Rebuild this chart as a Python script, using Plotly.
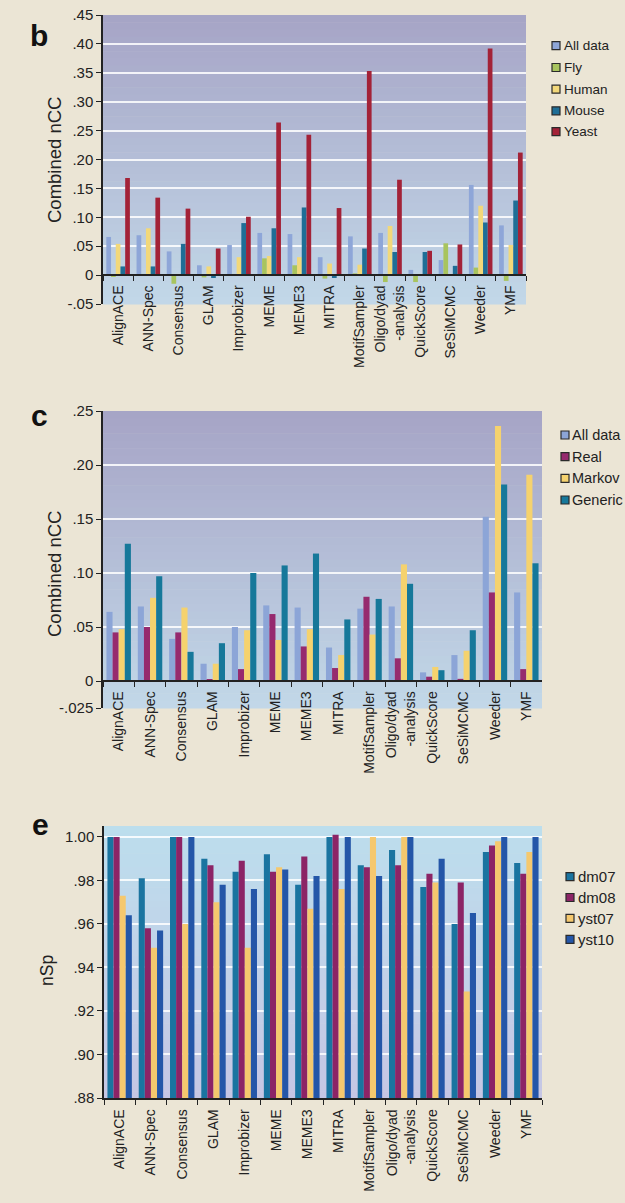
import plotly.graph_objects as go

# ---------------- data ----------------
categories = ["AlignACE", "ANN-Spec", "Consensus", "GLAM", "Improbizer", "MEME", "MEME3",
              "MITRA", "MotifSampler", "Oligo/dyad<br>-analysis", "QuickScore", "SeSiMCMC",
              "Weeder", "YMF"]

# panel b: Combined nCC by organism
b_names    = ["All data", "Fly", "Human", "Mouse", "Yeast"]
b_all_data = [0.066, 0.069, 0.041, 0.017, 0.052, 0.073, 0.071, 0.031, 0.067, 0.073, 0.009, 0.026, 0.156, 0.086]
b_fly      = [-0.003, 0.002, -0.015, -0.004, 0.002, 0.029, 0.017, -0.006, 0.003, -0.012, -0.012, 0.055, 0.013, -0.010]
b_human    = [0.054, 0.081, 0.002, 0.015, 0.031, 0.033, 0.031, 0.020, 0.018, 0.085, 0.002, 0.002, 0.120, 0.052]
b_mouse    = [0.015, 0.015, 0.054, -0.005, 0.090, 0.081, 0.117, -0.005, 0.046, 0.040, 0.040, 0.016, 0.091, 0.129]
b_yeast    = [0.168, 0.134, 0.115, 0.046, 0.101, 0.264, 0.243, 0.116, 0.353, 0.165, 0.042, 0.053, 0.392, 0.212]

# panel c: Combined nCC by background type
c_names    = ["All data", "Real", "Markov", "Generic"]
c_all_data = [0.064, 0.069, 0.039, 0.016, 0.050, 0.070, 0.068, 0.031, 0.067, 0.069, 0.008, 0.024, 0.152, 0.082]
c_real     = [0.045, 0.050, 0.045, 0.001, 0.011, 0.062, 0.032, 0.012, 0.078, 0.021, 0.004, 0.002, 0.082, 0.011]
c_markov   = [0.048, 0.077, 0.068, 0.016, 0.047, 0.038, 0.048, 0.024, 0.043, 0.108, 0.013, 0.028, 0.236, 0.191]
c_generic  = [0.127, 0.097, 0.027, 0.035, 0.100, 0.107, 0.118, 0.057, 0.076, 0.090, 0.010, 0.047, 0.182, 0.109]

# panel e: nSp by dataset
e_names = ["dm07", "dm08", "yst07", "yst10"]
e_dm07  = [1.000, 0.981, 1.000, 0.990, 0.984, 0.992, 0.978, 1.000, 0.987, 0.994, 0.977, 0.960, 0.993, 0.988]
e_dm08  = [1.000, 0.958, 1.000, 0.987, 0.989, 0.984, 0.991, 1.001, 0.986, 0.987, 0.983, 0.979, 0.996, 0.983]
e_yst07 = [0.973, 0.949, 0.960, 0.970, 0.949, 0.986, 0.967, 0.976, 1.000, 1.000, 0.979, 0.929, 0.998, 0.993]
e_yst10 = [0.964, 0.957, 1.000, 0.978, 0.976, 0.985, 0.982, 1.000, 0.982, 1.000, 0.990, 0.965, 1.000, 1.000]

b_tickvals = [-0.05, 0, 0.05, 0.10, 0.15, 0.20, 0.25, 0.30, 0.35, 0.40, 0.45]
b_ticktext = ["-.05", "0", ".05", ".10", ".15", ".20", ".25", ".30", ".35", ".40", ".45"]
c_tickvals = [-0.025, 0, 0.05, 0.10, 0.15, 0.20, 0.25]
c_ticktext = ["-.025", "0", ".05", ".10", ".15", ".20", ".25"]
e_tickvals = [0.88, 0.90, 0.92, 0.94, 0.96, 0.98, 1.00]
e_ticktext = [".88", ".90", ".92", ".94", ".96", ".98", "1.00"]

y_titles = ["Combined nCC", "Combined nCC", "nSp"]
panel_letters = ["b", "c", "e"]

# ---------------- style ----------------
FONT = "Liberation Sans, Arial, Helvetica, sans-serif"
PAPER = "#ebe5d5"
H = 1203.0
W = 625.0

def fy(px):
    return 1 - px / H

def fx(px):
    return px / W

panels = {
    "b": dict(dom_x=[fx(103), fx(526)], dom_y=[fy(304), fy(15)], rng=[-0.05, 0.45]),
    "c": dict(dom_x=[fx(103), fx(542)], dom_y=[fy(708), fy(411)], rng=[-0.025, 0.25]),
    "e": dict(dom_x=[fx(104), fx(542)], dom_y=[fy(1098), fy(826)], rng=[0.88, 1.005]),
}

colors_b = ["#8ea6d8", "#a8c45e", "#f2d87a", "#1f6e96", "#a32237"]
colors_c = ["#8ca5d7", "#962a6e", "#f5d26e", "#16789a"]
colors_e = ["#1a74a0", "#8c2466", "#f5c86e", "#2456a8"]

series_b = list(zip(b_names, [b_all_data, b_fly, b_human, b_mouse, b_yeast], colors_b))
series_c = list(zip(c_names, [c_all_data, c_real, c_markov, c_generic], colors_c))
series_e = list(zip(e_names, [e_dm07, e_dm08, e_yst07, e_yst10], colors_e))

fig = go.Figure()

def add_series(series, xa, ya):
    for name, vals, col in series:
        fig.add_trace(go.Bar(x=categories, y=vals, name=name, marker=dict(color=col, line=dict(width=0)),
                             xaxis=xa, yaxis=ya, showlegend=False))

add_series(series_b, "x", "y")
add_series(series_c, "x2", "y2")
add_series(series_e, "x3", "y3")

# gradient backgrounds
def lerp(c1, c2, t):
    return tuple(int(round(a + (b - a) * t)) for a, b in zip(c1, c2))

shapes = []
annotations = []

def gradient(xr, yr, top, bottom, n=40):
    for i in range(n):
        t0 = i / n
        t1 = (i + 1) / n
        col = lerp(top, bottom, (t0 + t1) / 2)
        shapes.append(dict(type="rect", xref=xr + " domain", yref=yr + " domain",
                           x0=0, x1=1, y0=1 - t1 - 0.002, y1=1 - t0,
                           fillcolor="rgb(%d,%d,%d)" % col, line=dict(width=0), layer="below"))

gradient("x", "y", (166, 164, 198), (194, 216, 232))
gradient("x2", "y2", (166, 164, 198), (194, 216, 232))
gradient("x3", "y3", (188, 222, 237), (198, 198, 228))

# legends (drawn as key squares + text labels)
def legend(series, sq_x, text_x, centers, size, fsize):
    for (name, _, col), cy in zip(series, centers):
        shapes.append(dict(type="rect", xref="paper", yref="paper",
                           x0=fx(sq_x), x1=fx(sq_x + size), y0=fy(cy + size / 2), y1=fy(cy - size / 2),
                           fillcolor=col, line=dict(color="#2a2a2a", width=1.2), layer="above"))
        annotations.append(dict(text=name, x=fx(text_x), y=fy(cy), xref="paper", yref="paper",
                                xanchor="left", yanchor="middle", showarrow=False,
                                font=dict(family=FONT, size=fsize, color="#222")))

legend(series_b, 552, 562, [45.7, 67.5, 89.2, 110.8, 131.7], 8, 13.5)
legend(series_c, 561, 570, [435, 456.7, 478.3, 500], 8, 14.5)
legend(series_e, 566, 576, [876.7, 897.5, 918.3, 939.3], 8, 15)

def xaxis_cfg(p, position=None, anchor=None):
    d = dict(domain=panels[p]["dom_x"], type="category", tickson="boundaries", ticks="outside",
             ticklen=5, tickwidth=1.3, tickcolor="#222", showline=True, linecolor="#222", linewidth=1.5,
             tickangle=-90, tickfont=dict(family=FONT, size=14, color="#222"), showgrid=False,
             zeroline=False, range=[-0.5, 13.5], ticklabelstandoff=4, automargin=False)
    if position is not None:
        d.update(anchor="free", position=position)
    else:
        d.update(anchor=anchor)
    return d

def yaxis_cfg(p, anchor, tv, tt):
    return dict(domain=panels[p]["dom_y"], range=panels[p]["rng"], anchor=anchor, tickvals=tv, ticktext=tt,
                ticks="outside", ticklen=5, tickwidth=1.3, tickcolor="#222", showline=True,
                linecolor="#222", linewidth=1.5, showgrid=True, gridcolor="rgba(255,255,255,0.85)",
                gridwidth=1.5, zeroline=False, tickfont=dict(family=FONT, size=15, color="#222"),
                automargin=False)

def zero_pos(p):
    lo, hi = panels[p]["rng"]
    d0, d1 = panels[p]["dom_y"]
    return d0 + (0 - lo) / (hi - lo) * (d1 - d0)

# y-axis titles
for text, (cx, cy, fs) in zip(y_titles, [(54, 160, 18.5), (54, 574, 18.5), (47, 971, 17.5)]):
    annotations.append(dict(text=text, x=fx(cx), y=fy(cy), xref="paper", yref="paper", showarrow=False,
                            textangle=-90, xanchor="center", yanchor="middle",
                            font=dict(family=FONT, size=fs, color="#222")))

# panel letters
for letter, (cx, cy) in zip(panel_letters, [(28, 17), (29, 416), (30, 843)]):
    annotations.append(dict(text="<b>" + letter + "</b>", x=fx(cx), y=fy(cy), xref="paper", yref="paper",
                            showarrow=False, font=dict(family=FONT, size=30, color="#111")))

fig.update_layout(
    width=625, height=1203, autosize=False,
    margin=dict(l=0, r=0, t=0, b=0),
    paper_bgcolor=PAPER, plot_bgcolor="rgba(0,0,0,0)",
    barmode="group", bargap=0.22, bargroupgap=0.0,
    font=dict(family=FONT, color="#222"),
    showlegend=False,
    xaxis=xaxis_cfg("b", position=zero_pos("b")),
    xaxis2=xaxis_cfg("c", position=zero_pos("c")),
    xaxis3=xaxis_cfg("e", anchor="y3"),
    yaxis=yaxis_cfg("b", "x", b_tickvals, b_ticktext),
    yaxis2=yaxis_cfg("c", "x2", c_tickvals, c_ticktext),
    yaxis3=yaxis_cfg("e", "x3", e_tickvals, e_ticktext),
    shapes=shapes,
    annotations=annotations,
)

fig.write_html("out.html",
               config={"displayModeBar": False},
               post_script="document.body.style.margin='0px';document.body.style.padding='0px';"
                           "document.body.style.overflow='hidden';"
                           "document.documentElement.style.background='" + PAPER + "';")
